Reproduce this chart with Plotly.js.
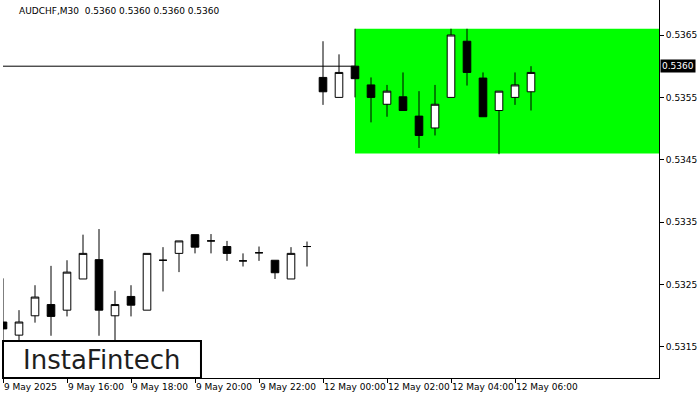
<!DOCTYPE html>
<html>
<head>
<meta charset="utf-8">
<script src="https://cdn.plot.ly/plotly-3.0.1.min.js"></script>
<style>html,body{margin:0;padding:0;background:#fff;}#chart{width:700px;height:400px;}</style>
</head>
<body>
<div id="chart"></div>
<script>
// ---- data ----
const times = [
  "9 May 14:00","9 May 14:30","9 May 15:00","9 May 15:30","9 May 16:00","9 May 16:30",
  "9 May 17:00","9 May 17:30","9 May 18:00","9 May 18:30","9 May 19:00","9 May 19:30",
  "9 May 20:00","9 May 20:30","9 May 21:00","9 May 21:30","9 May 22:00","9 May 22:30",
  "9 May 23:00","9 May 23:30",
  "12 May 00:00","12 May 00:30","12 May 01:00","12 May 01:30","12 May 02:00","12 May 02:30",
  "12 May 03:00","12 May 03:30","12 May 04:00","12 May 04:30","12 May 05:00","12 May 05:30",
  "12 May 06:00","12 May 06:30"
];
const openP  = [0.53190,0.53169,0.53200,0.53218,0.53209,0.53259,0.53290,0.53200,0.53231,0.53209,0.53289,0.53300,
                0.53330,0.53320,0.53311,0.53288,0.53301,0.53289,0.53259,0.53311,
                0.53582,0.53550,0.53600,0.53570,0.53539,0.53551,0.53520,0.53501,0.53550,0.53640,0.53581,0.53529,
                0.53550,0.53559];
const highP  = [0.53260,0.53209,0.53249,0.53280,0.53289,0.53330,0.53339,0.53240,0.53249,0.53300,0.53310,0.53320,
                0.53330,0.53331,0.53320,0.53300,0.53311,0.53289,0.53310,0.53319,
                0.53640,0.53619,0.53660,0.53582,0.53570,0.53590,0.53560,0.53570,0.53660,0.53660,0.53590,0.53560,
                0.53590,0.53600];
const lowP   = [0.53160,0.53161,0.53189,0.53168,0.53199,0.53259,0.53168,0.53160,0.53199,0.53209,0.53239,0.53270,
                0.53300,0.53300,0.53288,0.53279,0.53288,0.53259,0.53259,0.53279,
                0.53538,0.53550,0.53550,0.53510,0.53519,0.53529,0.53469,0.53489,0.53550,0.53569,0.53519,0.53459,
                0.53538,0.53529];
const closeP = [0.53179,0.53190,0.53230,0.53199,0.53270,0.53300,0.53209,0.53218,0.53217,0.53300,0.53289,0.53320,
                0.53310,0.53320,0.53300,0.53288,0.53301,0.53269,0.53300,0.53311,
                0.53559,0.53590,0.53580,0.53550,0.53560,0.53529,0.53489,0.53539,0.53650,0.53590,0.53519,0.53560,
                0.53570,0.53590];
const tickCats  = ["9 May 14:00","9 May 16:00","9 May 18:00","9 May 20:00","9 May 22:00",
                   "12 May 00:00","12 May 02:00","12 May 04:00","12 May 06:00"];
const tickLabels = ["9 May 2025","9 May 16:00","9 May 18:00","9 May 20:00","9 May 22:00",
                    "12 May 00:00","12 May 02:00","12 May 04:00","12 May 06:00"];
const symbolTitle = "AUDCHF,M30  0.5360 0.5360 0.5360 0.5360";
const currentPrice = 0.5360;
const patternStart = "12 May 01:00";
const patternTop = 0.5366;
const patternBottom = 0.5346;
const yTop = 0.537061, yBottom = 0.531003;
const nSlots = 41;

const trace = {
  type: "candlestick",
  x: times, open: openP, high: highP, low: lowP, close: closeP,
  increasing: {line: {color: "#000000", width: 1}, fillcolor: "#ffffff"},
  decreasing: {line: {color: "#000000", width: 1}, fillcolor: "#000000"},
  whiskerwidth: 0,
  hoverinfo: "skip",
  showlegend: false
};

const layout = {
  width: 700, height: 400,
  margin: {l: 3, r: 41, t: 0, b: 22, pad: 0},
  paper_bgcolor: "#ffffff", plot_bgcolor: "#ffffff",
  font: {family: "DejaVu Sans", size: 9, color: "#000000"},
  showlegend: false,
  boxgap: 0.32,
  xaxis: {
    type: "category",
    categoryorder: "array", categoryarray: times,
    range: [0, nSlots],
    rangeslider: {visible: false},
    showgrid: false, zeroline: false,
    showline: true, linecolor: "#000000", linewidth: 1,
    ticks: "outside", ticklen: 4, tickcolor: "#000000", tickwidth: 1,
    tickvals: tickCats, ticktext: tickLabels,
    tickangle: 0,
    ticklabelposition: "outside right",
    tickfont: {family: "DejaVu Sans", size: 9, color: "#000000"},
    automargin: false,
    fixedrange: true
  },
  yaxis: {
    side: "right",
    range: [yBottom, yTop],
    showgrid: false, zeroline: false,
    showline: true, linecolor: "#000000", linewidth: 1,
    ticks: "outside", ticklen: 4, tickcolor: "#000000",
    tick0: 0.5315, dtick: 0.001, tickformat: ".4f",
    tickfont: {family: "DejaVu Sans", size: 9, color: "#000000"},
    automargin: false,
    fixedrange: true
  },
  shapes: [
    {type: "rect", layer: "below", xref: "x", yref: "y",
     x0: times.indexOf(patternStart), x1: nSlots, y0: patternBottom, y1: patternTop,
     fillcolor: "#00ff00", line: {width: 0}},
    {type: "line", layer: "below", xref: "paper", yref: "y",
     x0: 0, x1: 1, y0: currentPrice, y1: currentPrice,
     line: {color: "#000000", width: 1}},
    {type: "rect", layer: "above", xref: "paper", yref: "paper",
     x0: 0, x1: 0.3018, y0: 0, y1: 0.0979,
     fillcolor: "#ffffff", line: {color: "#000000", width: 2}}
  ],
  annotations: [
    {xref: "paper", yref: "paper", x: 0.0213, y: 0.971, xanchor: "left", yanchor: "middle",
     text: symbolTitle, showarrow: false, font: {family: "DejaVu Sans", size: 9, color: "#000000"}},
    {xref: "paper", yref: "y", x: 1, y: currentPrice, xanchor: "left", yanchor: "middle", xshift: 1,
     text: currentPrice.toFixed(4), showarrow: false, bgcolor: "#000000", borderpad: 1,
     font: {family: "DejaVu Sans", size: 9, color: "#ffffff"}},
    {xref: "paper", yref: "paper", x: 0.151, y: 0.0476, xanchor: "center", yanchor: "middle",
     text: "InstaFintech", showarrow: false, font: {family: "DejaVu Sans", size: 26, color: "#1e1e1e"}}
  ]
};

Plotly.newPlot("chart", [trace], layout, {displayModeBar: false, staticPlot: true});
</script>
</body>
</html>
